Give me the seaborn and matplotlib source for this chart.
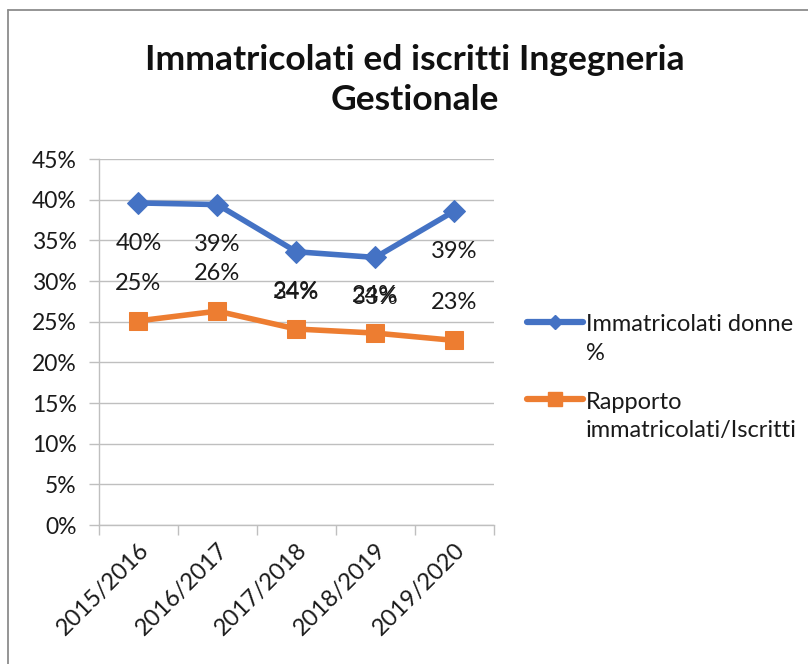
import matplotlib
matplotlib.use("Agg")
import matplotlib.pyplot as plt
import seaborn as sns
import pandas as pd
from matplotlib.lines import Line2D
from matplotlib.legend_handler import HandlerLine2D
from matplotlib.ticker import FixedLocator, PercentFormatter

categories = ["2015/2016", "2016/2017", "2017/2018", "2018/2019", "2019/2020"]
donne = [39.6, 39.4, 33.6, 32.9, 38.6]
rapporto = [25.1, 26.3, 24.1, 23.6, 22.7]
donne_labels = ["40%", "39%", "34%", "33%", "39%"]
rapporto_labels = ["25%", "26%", "24%", "24%", "23%"]
series_names = ["Immatricolati donne\n%", "Rapporto\nimmatricolati/Iscritti"]

sns.set_theme(style="white")
plt.rcParams['font.family'] = ['Lato', 'DejaVu Sans']

W, H = 808, 664
fig = plt.figure(figsize=(W / 100, H / 100), dpi=100)
ax = fig.add_axes([0.1225, 0.2093, 0.611 - 0.1225, 0.7605 - 0.2093])

blue = "#4472C4"
orange = "#ED7D31"
txt = "#1a1a1a"

df_d = pd.DataFrame({"x": list(range(len(categories))), "y": donne})
df_r = pd.DataFrame({"x": list(range(len(categories))), "y": rapporto})

sns.lineplot(data=df_d, x="x", y="y", ax=ax, color=blue, lw=4.0, marker="D",
             markersize=11, markeredgecolor=blue, legend=False)
sns.lineplot(data=df_r, x="x", y="y", ax=ax, color=orange, lw=4.0, marker="s",
             markersize=13, markeredgecolor=orange, legend=False)

for i, (v, t) in enumerate(zip(donne, donne_labels)):
    ax.annotate(t, (i, v), xytext=(0, -29), textcoords="offset points",
                ha="center", va="center", fontsize=17, color=txt)
for i, (v, t) in enumerate(zip(rapporto, rapporto_labels)):
    ax.annotate(t, (i, v), xytext=(0, 27), textcoords="offset points",
                ha="center", va="center", fontsize=17, color=txt)

ax.set_xlim(-0.5, len(categories) - 0.5)
ax.set_ylim(0, 45)
ax.yaxis.set_major_locator(FixedLocator(list(range(0, 46, 5))))
ax.yaxis.set_major_formatter(PercentFormatter(decimals=0))
ax.grid(axis="y", color="#BFBFBF", lw=1.0)
ax.set_axisbelow(True)

ax.set_xticks(list(range(len(categories))))
ax.set_xticklabels(categories, rotation=45, ha="right", rotation_mode="anchor", fontsize=17)
ax.set_xticks([i - 0.5 for i in range(len(categories) + 1)], minor=True)
ax.tick_params(axis="x", which="major", length=0, pad=10)
ax.tick_params(axis="x", which="minor", length=7, color="#BFBFBF", width=1, direction="out", bottom=True)
ax.tick_params(axis="y", length=7, color="#BFBFBF", width=1, direction="out",
               left=True, labelsize=16.5, pad=9)
for lab in ax.get_yticklabels() + ax.get_xticklabels():
    lab.set_color(txt)

for s in ["top", "right"]:
    ax.spines[s].set_visible(False)
for s in ["left", "bottom"]:
    ax.spines[s].set_color("#BFBFBF")
    ax.spines[s].set_linewidth(1.0)
ax.set_xlabel("")
ax.set_ylabel("")


class UpHandler(HandlerLine2D):
    def create_artists(self, legend, orig_handle, xdescent, ydescent, width,
                       height, fontsize, trans):
        shift = 0.75 * fontsize
        return super().create_artists(legend, orig_handle, xdescent,
                                      ydescent - 2 * shift, width, height,
                                      fontsize, trans)


h1 = Line2D([], [], color=blue, lw=4.5, marker="D", markersize=7,
            markeredgecolor=blue, solid_capstyle="round")
h2 = Line2D([], [], color=orange, lw=4.5, marker="s", markersize=10,
            markeredgecolor=orange, solid_capstyle="round")
leg = fig.legend([h1, h2], series_names, loc="center left", bbox_to_anchor=(0.626, 0.431),
                 frameon=False, handlelength=2.35, labelspacing=1.17,
                 handletextpad=0.15, prop={"size": 17},
                 handler_map={Line2D: UpHandler(numpoints=1)})
for t in leg.get_texts():
    t.set_linespacing(1.45)
    t.set_color(txt)

fig.text(0.513, 0.879, "Immatricolati ed iscritti Ingegneria\nGestionale", ha="center",
         va="center", fontsize=25.5, fontweight="bold", linespacing=1.3, color="#111111")

fig.add_artist(Line2D([8 / W, 1.0], [1 - 10 / H, 1 - 10 / H], transform=fig.transFigure,
                      color="#8c8c8c", lw=1.3))
fig.add_artist(Line2D([8 / W, 8 / W], [0.0, 1 - 10 / H], transform=fig.transFigure,
                      color="#8c8c8c", lw=1.3))

fig.savefig("out.png", dpi=100)
